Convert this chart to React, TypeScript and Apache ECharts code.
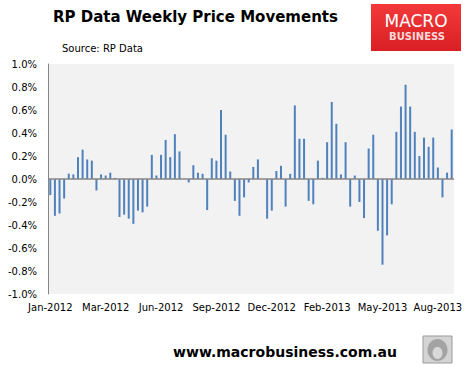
import React, { useEffect, useRef } from "react";
import * as echarts from "echarts";

const startDate = "2012-01-01";
const tickLabels = ["Jan-2012", "Mar-2012", "Jun-2012", "Sep-2012", "Dec-2012", "Feb-2013", "May-2013", "Aug-2013"];
const yTicks = [-1.0, -0.8, -0.6, -0.4, -0.2, 0.0, 0.2, 0.4, 0.6, 0.8, 1.0];

// Weekly % change
const weeklyChange2012H1 = [
  -0.14, -0.32, -0.3, -0.17, 0.046, 0.04, 0.19, 0.255, 0.17, 0.16,
  -0.1, 0.04, 0.03, 0.055, 0.01, -0.33, -0.31, -0.345, -0.39, -0.275,
  -0.29, -0.24, 0.21, 0.03, 0.21, 0.34, 0.19, 0.39, 0.24,
];
const weeklyChange2012H2 = [
  0, -0.03, 0.12, 0.055, 0.045, -0.27, 0.18, 0.16, 0.6, 0.385,
  0.065, -0.19, -0.32, -0.16, -0.03, 0.105, 0.17, 0, -0.345, -0.275,
  0.07, 0.115, -0.24, 0.045, 0.64, 0.35, 0.35, -0.19,
];
const weeklyChange2013 = [
  -0.22, 0.16, 0.01, 0.32, 0.67, 0.48, 0.04, 0.32, -0.24, 0.03,
  -0.2, -0.34, 0.265, 0.385, -0.45, -0.745, -0.49, -0.22, 0.41, 0.63,
  0.82, 0.63, 0.41, 0.2, 0.36, 0.28, 0.36, 0.1, -0.16, 0.055, 0.43,
];

const values = [...weeklyChange2012H1, ...weeklyChange2012H2, ...weeklyChange2013];

const MONTHS = ["Jan", "Feb", "Mar", "Apr", "May", "Jun", "Jul", "Aug", "Sep", "Oct", "Nov", "Dec"];
const categories: string[] = values.map((_, i) => {
  const d = new Date(startDate + "T00:00:00Z");
  d.setUTCDate(d.getUTCDate() + 7 * i);
  return MONTHS[d.getUTCMonth()] + "-" + d.getUTCFullYear();
});

const AXIS_FONT = "DejaVu Sans";

export default function App() {
  const ref = useRef<HTMLDivElement>(null);
  useEffect(() => {
    if (!ref.current) return;
    const chart = echarts.init(ref.current, null, { renderer: "svg" });
    chart.setOption({
      animation: false,
      backgroundColor: "#ffffff",
      grid: {
        left: 48,
        right: 14,
        top: 64,
        bottom: 75,
        show: true,
        backgroundColor: "#F2F2F2",
        borderWidth: 0,
      },
      xAxis: {
        type: "category",
        data: categories,
        boundaryGap: true,
        axisLine: { show: false, onZero: false },
        axisTick: { show: false },
        axisLabel: {
          interval: 11,
          margin: 8,
          color: "#000",
          fontFamily: AXIS_FONT,
          fontSize: 10,
          formatter: (v: string, idx: number) => tickLabels[Math.round(idx / 12)] ?? v,
        },
        splitLine: { show: false },
      },
      yAxis: {
        type: "value",
        min: yTicks[0],
        max: yTicks[yTicks.length - 1],
        interval: 0.2,
        axisLine: { show: true, lineStyle: { color: "#868686", width: 1 } },
        axisTick: { show: false },
        splitLine: { show: false },
        axisLabel: {
          margin: 11,
          color: "#000",
          fontFamily: AXIS_FONT,
          fontSize: 10,
          formatter: (v: number) => v.toFixed(1) + "%",
        },
      },
      series: [
        {
          type: "bar",
          data: values,
          barWidth: 2,
          itemStyle: { color: "#4F81BD" },
          markLine: {
            silent: true,
            symbol: "none",
            label: { show: false },
            lineStyle: { color: "#868686", width: 1.5, type: "solid" },
            data: [{ yAxis: 0 }],
          },
        },
      ],
      graphic: [
        {
          type: "text",
          x: 53,
          y: 17,
          style: {
            text: "RP Data Weekly Price Movements",
            textAlign: "left",
            textVerticalAlign: "middle",
            font: "bold 15px 'DejaVu Sans'",
            fill: "#000",
          },
        },
        {
          type: "text",
          x: 62,
          y: 48,
          style: {
            text: "Source: RP Data",
            textAlign: "left",
            textVerticalAlign: "middle",
            font: "10px 'DejaVu Sans'",
            fill: "#000",
          },
        },
        {
          type: "rect",
          shape: { x: 371, y: 4, width: 90, height: 47 },
          style: {
            fill: new echarts.graphic.LinearGradient(0, 0, 0, 1, [
              { offset: 0, color: "#F23A3A" },
              { offset: 1, color: "#D91F24" },
            ]),
          },
        },
        {
          type: "text",
          x: 416,
          y: 21,
          style: {
            text: "MACRO",
            textAlign: "center",
            textVerticalAlign: "middle",
            font: "17px 'DejaVu Sans'",
            fill: "#ffffff",
          },
        },
        {
          type: "text",
          x: 417,
          y: 36,
          style: {
            text: "BUSINESS",
            textAlign: "center",
            textVerticalAlign: "middle",
            font: "bold 10px 'DejaVu Sans'",
            fill: "#F8DADA",
          },
        },
        {
          type: "text",
          x: 285,
          y: 352,
          style: {
            text: "www.macrobusiness.com.au",
            textAlign: "center",
            textVerticalAlign: "middle",
            font: "bold 14px 'DejaVu Sans'",
            fill: "#000",
          },
        },
        {
          type: "rect",
          shape: { x: 423, y: 336, width: 29, height: 27 },
          style: { fill: "#D4D4D4", stroke: "#9A9A9A", lineWidth: 1 },
        },
        {
          type: "ellipse",
          shape: { cx: 437.5, cy: 350, rx: 10, ry: 11 },
          style: { fill: "#8E8E8E", opacity: 0.7 },
        },
        {
          type: "ellipse",
          shape: { cx: 437.5, cy: 353, rx: 5, ry: 6 },
          style: { fill: "#E6E6E6", opacity: 0.8 },
        },
      ],
    });
    return () => chart.dispose();
  }, []);
  return (
    <div
      ref={ref}
      style={{ position: "fixed", left: 0, top: 0, width: 468, height: 369, background: "#fff" }}
    />
  );
}
